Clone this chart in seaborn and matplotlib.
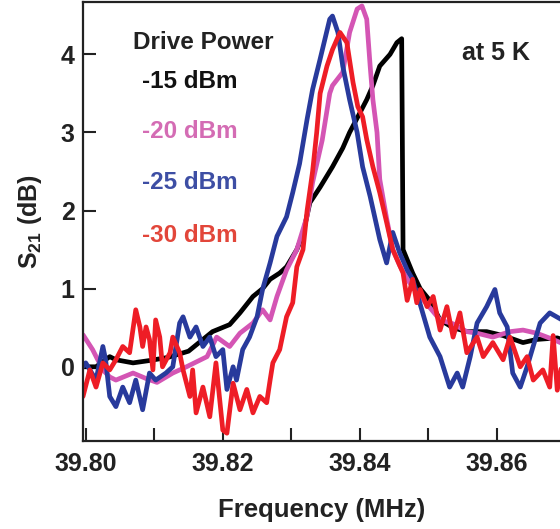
import matplotlib
matplotlib.use("Agg")
import matplotlib.pyplot as plt
import seaborn as sns
import pandas as pd

# ---------------- data ----------------
freq_15 = [39.7997, 39.8015, 39.8035, 39.8044, 39.8069, 39.8093, 39.8120, 39.8150,
           39.8185, 39.8210, 39.8225, 39.8244, 39.8258, 39.8269, 39.8283, 39.8293,
           39.8308, 39.8317, 39.8327, 39.8342, 39.8360, 39.8375, 39.8385, 39.8397,
           39.8410, 39.8419, 39.8429, 39.8444, 39.8454, 39.8461, 39.8463, 39.8477,
           39.8488, 39.8502, 39.8517, 39.8536, 39.8556, 39.8585, 39.8609, 39.8638,
           39.8658, 39.8688, 39.8695]
s21_15 = [0.00, 0.00, 0.13, 0.09, 0.05, 0.08, 0.12, 0.20,
          0.45, 0.54, 0.69, 0.90, 1.00, 1.12, 1.20, 1.28,
          1.50, 1.70, 2.10, 2.30, 2.56, 2.80, 3.00, 3.20,
          3.42, 3.60, 3.85, 4.00, 4.15, 4.20, 1.50, 1.20,
          1.00, 0.85, 0.60, 0.50, 0.45, 0.45, 0.40, 0.31,
          0.35, 0.37, 0.35]

freq_20 = [39.7996, 39.8010, 39.8025, 39.8035, 39.8044, 39.8069, 39.8088, 39.8104,
           39.8127, 39.8147, 39.8177, 39.8191, 39.8210, 39.8225, 39.8244, 39.8258,
           39.8269, 39.8279, 39.8293, 39.8308, 39.8323, 39.8331, 39.8345, 39.8356,
           39.8360, 39.8375, 39.8385, 39.8396, 39.8403, 39.8410, 39.8415, 39.8419,
           39.8425, 39.8429, 39.8439, 39.8448, 39.8458, 39.8469, 39.8483, 39.8498,
           39.8517, 39.8536, 39.8556, 39.8571, 39.8594, 39.8619, 39.8638, 39.8658,
           39.8682, 39.8695]
s21_20 = [0.41, 0.22, -0.04, -0.13, -0.17, -0.08, -0.15, -0.20,
          -0.08, 0.00, 0.13, 0.38, 0.26, 0.43, 0.56, 0.73,
          0.60, 0.90, 1.24, 1.50, 1.93, 2.36, 2.90, 3.50,
          3.60, 3.77, 4.28, 4.58, 4.62, 4.45, 3.85, 3.42,
          3.00, 2.40, 1.90, 1.50, 1.30, 1.12, 0.95, 0.80,
          0.60, 0.55, 0.45, 0.43, 0.38, 0.45, 0.47, 0.43,
          0.35, 0.30]

freq_25 = [39.7996, 39.8000, 39.8015, 39.8025, 39.8029, 39.8035, 39.8044, 39.8054,
           39.8064, 39.8073, 39.8083, 39.8093, 39.8102, 39.8117, 39.8127, 39.8137,
           39.8142, 39.8152, 39.8161, 39.8171, 39.8181, 39.8190, 39.8200, 39.8206,
           39.8215, 39.8220, 39.8229, 39.8239, 39.8250, 39.8258, 39.8269, 39.8279,
           39.8293, 39.8302, 39.8312, 39.8323, 39.8331, 39.8342, 39.8356, 39.8360,
           39.8368, 39.8375, 39.8385, 39.8396, 39.8404, 39.8415, 39.8429, 39.8439,
           39.8448, 39.8458, 39.8469, 39.8477, 39.8488, 39.8502, 39.8517, 39.8531,
           39.8542, 39.8550, 39.8561, 39.8571, 39.8585, 39.8597, 39.8604, 39.8615,
           39.8623, 39.8634, 39.8644, 39.8663, 39.8677, 39.8695]
s21_25 = [0.00, 0.05, -0.17, 0.26, 0.09, -0.38, -0.51, -0.26,
          -0.46, -0.17, -0.55, -0.08, -0.17, -0.08, 0.00, 0.56,
          0.64, 0.38, 0.51, 0.26, 0.38, 0.13, 0.22, -0.29,
          0.00, -0.17, 0.22, 0.38, 0.64, 0.99, 1.33, 1.67,
          1.92, 2.23, 2.60, 3.17, 3.55, 3.94, 4.45, 4.49,
          4.28, 3.85, 3.42, 3.00, 2.56, 2.18, 1.63, 1.33,
          1.72, 1.46, 1.24, 1.12, 0.80, 0.38, 0.13, -0.26,
          -0.08, -0.26, 0.13, 0.56, 0.77, 0.99, 0.69, 0.51,
          -0.08, -0.26, 0.00, 0.56, 0.69, 0.60]

freq_30 = [39.7996, 39.8006, 39.8015, 39.8025, 39.8035, 39.8044, 39.8054, 39.8064,
           39.8073, 39.8079, 39.8083, 39.8088, 39.8093, 39.8098, 39.8102, 39.8108,
           39.8112, 39.8123, 39.8127, 39.8137, 39.8142, 39.8152, 39.8156, 39.8161,
           39.8171, 39.8181, 39.8190, 39.8200, 39.8206, 39.8215, 39.8225, 39.8235,
           39.8244, 39.8254, 39.8264, 39.8269, 39.8273, 39.8283, 39.8293, 39.8302,
           39.8308, 39.8317, 39.8323, 39.8331, 39.8337, 39.8342, 39.8352, 39.8360,
           39.8371, 39.8381, 39.8390, 39.8397, 39.8404, 39.8410, 39.8419, 39.8429,
           39.8439, 39.8448, 39.8463, 39.8469, 39.8477, 39.8483, 39.8488, 39.8498,
           39.8507, 39.8517, 39.8527, 39.8536, 39.8546, 39.8556, 39.8571, 39.8580,
           39.8594, 39.8609, 39.8619, 39.8634, 39.8644, 39.8653, 39.8667, 39.8677,
           39.8682, 39.8688, 39.8695]
s21_30 = [-0.38, -0.04, -0.26, 0.05, -0.04, 0.09, 0.26, 0.18,
          0.73, 0.51, 0.26, 0.51, 0.35, -0.04, 0.60, 0.38,
          0.00, 0.18, 0.38, 0.18, -0.04, -0.38, -0.04, -0.59,
          -0.26, -0.64, 0.05, -0.81, -0.85, -0.21, -0.55, -0.29,
          -0.59, -0.38, -0.46, -0.17, 0.05, 0.22, 0.64, 0.82,
          1.28, 1.50, 2.00, 2.50, 3.00, 3.50, 3.85, 4.06,
          4.28, 4.15, 3.64, 3.33, 3.20, 2.91, 2.56, 2.23,
          1.85, 1.50, 1.20, 0.85, 1.12, 0.82, 0.99, 0.77,
          0.90, 0.47, 0.77, 0.38, 0.69, 0.18, 0.38, 0.13,
          0.31, 0.09, 0.38, 0.00, 0.13, -0.17, -0.04, -0.26,
          0.40, -0.30, 0.05]

labels = ["-15 dBm", "-20 dBm", "-25 dBm", "-30 dBm"]
line_colors = ["#000000", "#d455b4", "#283a9c", "#ee1d26"]
text_colors = ["#111111", "#d46cb4", "#3d4ea4", "#e2463a"]
x_ticks = [39.80, 39.81, 39.82, 39.83, 39.84, 39.85, 39.86]
x_ticklabels = ["39.80", "", "39.82", "", "39.84", "", "39.86"]
y_ticks = [0, 1, 2, 3, 4]

# ---------------- style ----------------
sns.set_theme(style="white")
plt.rcParams["font.family"] = ["Liberation Sans", "DejaVu Sans"]
plt.rcParams["font.weight"] = "bold"
plt.rcParams["mathtext.fontset"] = "custom"
plt.rcParams["mathtext.rm"] = "Liberation Sans:bold"
plt.rcParams["mathtext.bf"] = "Liberation Sans:bold"

fig = plt.figure(figsize=(5.6, 5.29), dpi=100)
ax = fig.add_axes([83 / 560, 1 - 441 / 529, 477 / 560, 439 / 529])

series = [(freq_15, s21_15), (freq_20, s21_20), (freq_25, s21_25), (freq_30, s21_30)]
for (f, s), lab, col in zip(series, labels, line_colors):
    df = pd.DataFrame({"Frequency": f, "S21": s})
    sns.lineplot(data=df, x="Frequency", y="S21", ax=ax, color=col,
                 linewidth=3.4, estimator=None, sort=False, legend=False)

ax.set_xlim(39.7996, 39.8692)
ax.set_ylim(-0.95, 4.67)
ax.set_xticks(x_ticks)
ax.set_xticklabels(x_ticklabels)
ax.set_yticks(y_ticks)
ax.tick_params(direction="in", length=9.5, width=1.5, labelsize=18, pad=6,
               colors="#222222", bottom=True, left=True, top=False, right=False)
ax.tick_params(axis="x", pad=8)
for lab in ax.get_xticklabels() + ax.get_yticklabels():
    lab.set_fontweight("bold")
ax.spines["right"].set_visible(False)
for sp in ["left", "bottom", "top"]:
    ax.spines[sp].set_linewidth(1.6)
    ax.spines[sp].set_color("#222222")

ax.set_xlabel("Frequency (MHz)", fontsize=18.5, fontweight="bold", labelpad=16,
              color="#222222")
ax.set_ylabel(r"S$_{21}$ (dB)", fontsize=18, fontweight="bold", labelpad=12,
              color="#222222")

ax.text(0.105, 0.907, "Drive Power", transform=ax.transAxes, fontsize=17.5,
        fontweight="bold", va="center", ha="left", color="#222222")
ys = [0.818, 0.704, 0.588, 0.469]
for lab, yy, c in zip(labels, ys, text_colors):
    ax.text(0.124, yy, lab, transform=ax.transAxes, fontsize=17.5,
            fontweight="bold", va="center", ha="left", color=c)
ax.text(0.795, 0.884, "at 5 K", transform=ax.transAxes, fontsize=18,
        fontweight="bold", va="center", ha="left", color="#222222")

fig.savefig("out.png", dpi=100, facecolor="white")
